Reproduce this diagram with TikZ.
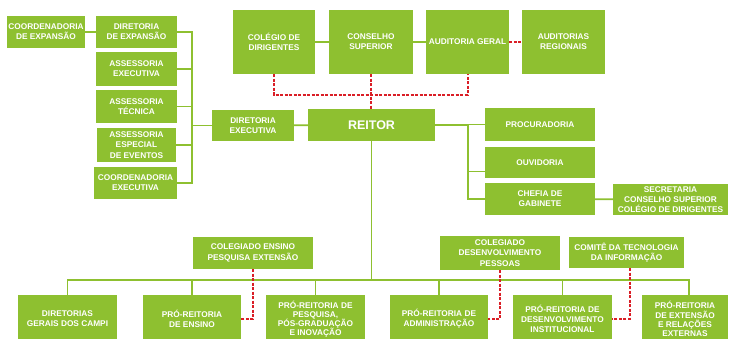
\documentclass[tikz,border=0pt]{standalone}
\usepackage{fontspec}
\setmainfont{Liberation Sans}
\definecolor{orgGreen}{RGB}{142,192,48}
\definecolor{orgRed}{RGB}{218,30,38}
\begin{document}
\begin{tikzpicture}[x=1pt,y=-1pt,
  unit/.style={fill=orgGreen, text=white, align=center, inner sep=0pt,
    font=\fontsize{8.3}{10.2}\selectfont\bfseries},
  link/.style={draw=orgGreen, line width=1.8pt},
  advisory/.style={draw=orgRed, line width=2pt, dash pattern=on 3pt off 1.5pt}]
\clip (0,0) rectangle (729,338);
\fill[white] (0,0) rectangle (729,338);

% top councils
\node[unit, minimum width=82pt, minimum height=64pt] (colegio) at (274,42) {COLÉGIO DE\\DIRIGENTES};
\node[unit, minimum width=84pt, minimum height=64pt] (conselho) at (371,42) {CONSELHO\\SUPERIOR};
\node[unit, minimum width=83pt, minimum height=64pt] (audgeral) at (467.5,42) {AUDITORIA GERAL};
\node[unit, minimum width=83pt, minimum height=64pt] (audreg) at (563.5,42) {AUDITORIAS\\REGIONAIS};

% rector and executive direction
\node[unit, minimum width=127pt, minimum height=32pt, font=\fontsize{12.5}{14}\selectfont\bfseries] (reitor) at (371.5,125) {REITOR};
\node[unit, minimum width=82pt, minimum height=31pt] (direxec) at (253,125.5) {DIRETORIA\\EXECUTIVA};

% left column
\node[unit, minimum width=78pt, minimum height=32pt] (coordexp) at (46,32) {COORDENADORIA\\DE EXPANSÃO};
\node[unit, minimum width=81pt, minimum height=32pt] (direxp) at (136.5,32) {DIRETORIA\\DE EXPANSÃO};
\node[unit, minimum width=81pt, minimum height=34pt] (assexec) at (136.5,69) {ASSESSORIA\\EXECUTIVA};
\node[unit, minimum width=81pt, minimum height=33pt] (asstec) at (136.5,106.5) {ASSESSORIA\\TÉCNICA};
\node[unit, minimum width=79pt, minimum height=34pt] (assesp) at (136.5,145) {ASSESSORIA\\ESPECIAL\\DE EVENTOS};
\node[unit, minimum width=83pt, minimum height=32pt] (coordexec) at (135.5,183) {COORDENADORIA\\EXECUTIVA};

% right column
\node[unit, minimum width=110pt, minimum height=33pt] (procur) at (540,124.5) {PROCURADORIA};
\node[unit, minimum width=110pt, minimum height=31pt] (ouvid) at (540,162.5) {OUVIDORIA};
\node[unit, minimum width=110pt, minimum height=32pt] (chefia) at (540,199) {CHEFIA DE\\GABINETE};
\node[unit, minimum width=115pt, minimum height=31pt] (secret) at (670.5,199.5) {SECRETARIA\\CONSELHO SUPERIOR\\COLÉGIO DE DIRIGENTES};

% collegiate bodies
\node[unit, minimum width=120pt, minimum height=32pt] (colens) at (253,253) {COLEGIADO ENSINO\\PESQUISA EXTENSÃO};
\node[unit, minimum width=120pt, minimum height=34pt] (coldes) at (500,253) {COLEGIADO\\DESENVOLVIMENTO\\PESSOAS};
\node[unit, minimum width=115pt, minimum height=31pt] (comite) at (626.5,252.5) {COMITÊ DA TECNOLOGIA\\DA INFORMAÇÃO};

% bottom row
\begin{scope}[every node/.append style={minimum height=48pt, font=\fontsize{8.3}{9.7}\selectfont\bfseries}]
\node[unit, minimum width=99pt] (dircampi) at (67.5,319) {DIRETORIAS\\GERAIS DOS CAMPI};
\node[unit, minimum width=98pt] (proens) at (192,319) {PRÓ-REITORIA\\DE ENSINO};
\node[unit, minimum width=99pt, font=\fontsize{8.3}{9.2}\selectfont\bfseries] (propesq) at (315.5,319) {PRÓ-REITORIA DE\\PESQUISA,\\PÓS-GRADUAÇÃO\\E INOVAÇÃO};
\node[unit, minimum width=98pt] (proadm) at (439,319) {PRÓ-REITORIA DE\\ADMINISTRAÇÃO};
\node[unit, minimum width=99pt] (prodes) at (562.5,319) {PRÓ-REITORIA DE\\DESENVOLVIMENTO\\INSTITUCIONAL};
\node[unit, minimum width=86pt, font=\fontsize{8.3}{9.2}\selectfont\bfseries] (proext) at (685,319) {PRÓ-REITORIA\\DE EXTENSÃO\\E RELAÇÕES\\EXTERNAS};
\end{scope}

% spines
\coordinate (lsp) at (192,0);
\coordinate (rsp) at (468,0);
\coordinate (bus) at (0,280);
\coordinate (redbar) at (0,95);

% hierarchy links
\draw[link] (coordexp) -- (direxp);
\draw[link] (colegio) -- (conselho);
\draw[link] (conselho) -- (audgeral);
\draw[link] (reitor) -- (direxec);
\draw[link] (direxp.east) -- (direxp.east -| lsp) -- (coordexec.east -| lsp) -- (coordexec.east);
\foreach \n in {assexec, asstec, assesp, direxec}
  \draw[link] (\n.east -| lsp) -- (\n.west -| \n.east);
\draw[link] (direxec.west) -- (direxec.west -| lsp);
\draw[link] (reitor.east) -- (reitor.east -| rsp) -- (chefia.west -| rsp) -- (chefia.west);
\draw[link] (procur.west -| rsp) -- (procur.west);
\draw[link] ([yshift=-9pt]ouvid.west -| rsp) -- ([yshift=-9pt]ouvid.west);
\draw[link] (chefia) -- (secret);
\draw[link] (reitor.south) -- (reitor.south |- bus);
\draw[link] (dircampi.north) -- (dircampi.north |- bus) -- ([xshift=4pt]proext.north |- bus) -- ([xshift=4pt]proext.north);
\foreach \n in {proens, propesq, proadm, prodes}
  \draw[link] (\n.north |- bus) -- (\n.north);

% advisory links
\draw[advisory] (audgeral) -- (audreg);
\draw[advisory] (colegio.south) -- (colegio.south |- redbar) -- (audgeral.south |- redbar) -- (audgeral.south);
\draw[advisory] (conselho.south) -- (reitor.north -| conselho.south);
\draw[advisory] (colens.south) |- (proens.east);
\draw[advisory] (coldes.south) |- (proadm.east);
\draw[advisory] ([xshift=3pt]comite.south) |- (prodes.east);
\end{tikzpicture}
\end{document}
